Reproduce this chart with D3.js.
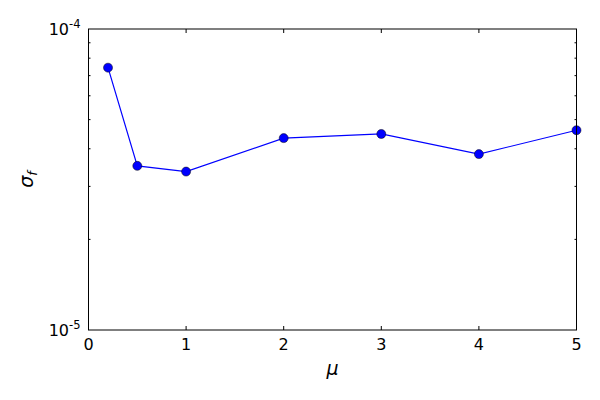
<!DOCTYPE html>
<html>
<head>
<meta charset="utf-8">
<script src="https://cdn.jsdelivr.net/npm/d3@7"></script>
<style>
  body { margin: 0; background: #fff; }
  svg { display: block; font-family: "DejaVu Sans", sans-serif; }
</style>
</head>
<body>
<svg width="600" height="400"></svg>
<script>
var muValues = [0.2, 0.5, 1, 2, 3, 4, 5];
var sigmaValues = [7.44e-5, 3.51e-5, 3.36e-5, 4.34e-5, 4.48e-5, 3.84e-5, 4.61e-5];
var xTicks = [0, 1, 2, 3, 4, 5];
var yMajor = [1e-5, 1e-4];
var yMinor = [2e-5, 3e-5, 4e-5, 5e-5, 6e-5, 7e-5, 8e-5, 9e-5];

var svg = d3.select("svg"),
  margin = { top: 29, right: 23.5, bottom: 70, left: 88.5 },
  width = 600 - margin.left - margin.right,
  height = 400 - margin.top - margin.bottom;

var x = d3.scaleLinear().domain([0, 5]).range([0, width]);
var y = d3.scaleLog().domain([1e-5, 1e-4]).range([height, 0]);

var g = svg.append("g")
  .attr("transform", "translate(" + margin.left + "," + margin.top + ")");

// ticks inside, on all four sides
var ticks = g.append("g").attr("stroke", "#000").attr("stroke-width", 1);
xTicks.forEach(function(t) {
  ticks.append("line").attr("x1", x(t)).attr("x2", x(t)).attr("y1", height).attr("y2", height - 4);
  ticks.append("line").attr("x1", x(t)).attr("x2", x(t)).attr("y1", 0).attr("y2", 4);
});
yMinor.forEach(function(t) {
  ticks.append("line").attr("x1", 0).attr("x2", 2).attr("y1", y(t)).attr("y2", y(t));
  ticks.append("line").attr("x1", width).attr("x2", width - 2).attr("y1", y(t)).attr("y2", y(t));
});

// x tick labels
g.append("g").selectAll("text")
  .data(xTicks)
  .enter().append("text")
  .attr("x", function(d) { return x(d); })
  .attr("y", height + 20)
  .attr("text-anchor", "middle")
  .attr("font-size", 16)
  .text(function(d) { return d; });

// y tick labels 10^n
var yl = g.append("g").selectAll("text")
  .data(yMajor)
  .enter().append("text")
  .attr("x", -8)
  .attr("y", function(d) { return y(d) + 6; })
  .attr("text-anchor", "end")
  .attr("font-size", 16);
yl.append("tspan").text("10");
yl.append("tspan")
  .attr("dy", -7)
  .attr("font-size", 11.5)
  .text(function(d) { return Math.round(Math.log10(d)); });

// line and markers
var line = d3.line()
  .x(function(d, i) { return x(muValues[i]); })
  .y(function(d) { return y(d); });

g.append("path")
  .datum(sigmaValues)
  .attr("fill", "none")
  .attr("stroke", "#0000ff")
  .attr("stroke-width", 1.2)
  .attr("d", line);

g.selectAll("circle")
  .data(sigmaValues)
  .enter().append("circle")
  .attr("cx", function(d, i) { return x(muValues[i]); })
  .attr("cy", function(d) { return y(d); })
  .attr("r", 4.5)
  .attr("fill", "#0000ff")
  .attr("stroke", "#000")
  .attr("stroke-width", 0.5);

// frame
g.append("rect")
  .attr("width", width)
  .attr("height", height)
  .attr("fill", "none")
  .attr("stroke", "#000")
  .attr("stroke-width", 1);

// axis labels
g.append("text")
  .attr("x", width / 2)
  .attr("y", height + 45)
  .attr("text-anchor", "middle")
  .attr("font-size", 19)
  .attr("font-style", "italic")
  .text("μ");

var ylab = g.append("text")
  .attr("transform", "translate(-56," + (height / 2) + ") rotate(-90)")
  .attr("text-anchor", "middle")
  .attr("font-size", 19)
  .attr("font-style", "italic");
ylab.append("tspan").text("σ");
ylab.append("tspan").attr("dy", 4).attr("font-size", 13).text("f");
</script>
</body>
</html>
